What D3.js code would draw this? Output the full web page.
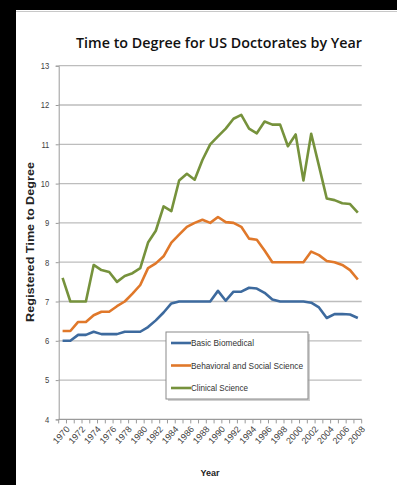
<!DOCTYPE html>
<html>
<head>
<meta charset="utf-8">
<script src="https://cdn.jsdelivr.net/npm/d3@7"></script>
<style>
  html, body { margin: 0; padding: 0; background: #000; }
  svg { display: block; }
  .tick text { fill: #404040; }
</style>
</head>
<body>
<div id="chart"></div>
<script>
// data
const years = d3.range(1970, 2009).map(String);
const basicBiomedical = [
  6.0, 6.0, 6.15, 6.15, 6.23, 6.17, 6.17, 6.17, 6.23, 6.23,
  6.23, 6.35, 6.52, 6.72, 6.95, 7.0, 7.0, 7.0, 7.0, 7.0,
  7.27, 7.02, 7.25, 7.25, 7.35, 7.33, 7.22, 7.05, 7.0, 7.0,
  7.0, 7.0, 6.97, 6.85, 6.58, 6.68, 6.68, 6.67, 6.58
];
const behavioralSocial = [
  6.25, 6.25, 6.48, 6.48, 6.65, 6.74, 6.74, 6.88, 7.0, 7.2,
  7.42, 7.85, 7.97, 8.15, 8.5, 8.7, 8.9, 9.0, 9.08, 9.0,
  9.15, 9.02, 9.0, 8.9, 8.6, 8.57, 8.3, 8.0, 8.0, 8.0,
  8.0, 8.0, 8.27, 8.18, 8.03, 8.0, 7.93, 7.8, 7.56
];
const clinicalScience = [
  7.6, 7.0, 7.0, 7.0, 7.93, 7.8, 7.75, 7.5, 7.65, 7.72,
  7.85, 8.5, 8.8, 9.42, 9.3, 10.08, 10.25, 10.1, 10.6, 11.0,
  11.2, 11.4, 11.65, 11.75, 11.4, 11.28, 11.58, 11.5, 11.5, 10.95,
  11.25, 10.08, 11.27, 10.45, 9.62, 9.58, 9.5, 9.48, 9.26
];
const seriesNames = ['Basic Biomedical', 'Behavioral and Social Science', 'Clinical Science'];
const yTicks = [4, 5, 6, 7, 8, 9, 10, 11, 12, 13];

// settings
const width = 397;
const height = 485;
const plot = { left: 58.7, right: 361.7, top: 65.7, bottom: 419.4 };
const colors = ['#3d6a9e', '#e0782a', '#76923c'];
const legendWidths = [63, 112, 57];
const labelFont = '"Liberation Sans", Arial, sans-serif';

const svg = d3.select('#chart')
  .append('svg')
  .attr('width', width)
  .attr('height', height);

// white panel with black frame on left / top
svg.append('rect').attr('x', 16).attr('y', 10).attr('width', width - 16).attr('height', height - 10).attr('fill', '#fff');
svg.append('line').attr('x1', 16).attr('x2', width).attr('y1', 11.5).attr('y2', 11.5)
  .attr('stroke', '#c8c8c8').attr('stroke-width', 1);

const x = d3.scaleBand().domain(years).range([plot.left, plot.right]);
const y = d3.scaleLinear().domain([4, 13]).range([plot.bottom, plot.top]);
const cx = d => x(d) + x.bandwidth() / 2;

// gridlines
svg.append('g')
  .selectAll('line')
  .data(yTicks.slice(1))
  .join('line')
  .attr('x1', plot.left).attr('x2', plot.right)
  .attr('y1', d => y(d)).attr('y2', d => y(d))
  .attr('stroke', '#bdbdbd').attr('stroke-width', 1.3);

// y axis
svg.append('g')
  .attr('transform', `translate(${plot.left},0)`)
  .call(d3.axisLeft(y).tickValues(yTicks).tickSize(3).tickPadding(8))
  .call(g => g.selectAll('.domain, line').attr('stroke', '#9a9a9a'))
  .call(g => g.selectAll('text').attr('font-family', labelFont).attr('font-size', 9)
    .attr('transform', 'scale(0.85,1)'));

// x axis
const xAxis = svg.append('g').attr('transform', `translate(0,${plot.bottom})`);
xAxis.append('line')
  .attr('x1', plot.left).attr('x2', plot.right)
  .attr('stroke', '#9a9a9a').attr('stroke-width', 1.3);
xAxis.selectAll('line.tk')
  .data(years.map(d => x(d)).concat([x.range()[1]]))
  .join('line')
  .attr('class', 'tk')
  .attr('x1', d => d).attr('x2', d => d)
  .attr('y1', 0).attr('y2', 4)
  .attr('stroke', '#9a9a9a');
xAxis.selectAll('text')
  .data(years.filter((d, i) => i % 2 === 0))
  .join('text')
  .attr('transform', d => `translate(${cx(d) + 3},${6}) rotate(-48)`)
  .attr('text-anchor', 'end')
  .attr('dy', '0.7em')
  .attr('font-family', labelFont)
  .attr('font-size', 9)
  .attr('fill', '#404040')
  .text(d => d);

// lines
const line = d3.line()
  .x((d, i) => cx(years[i]))
  .y(d => y(d));

svg.append('g')
  .selectAll('path')
  .data([basicBiomedical, behavioralSocial, clinicalScience])
  .join('path')
  .attr('d', d => line(d))
  .attr('fill', 'none')
  .attr('stroke', (d, i) => colors[i])
  .attr('stroke-width', 2.6)
  .attr('stroke-linejoin', 'round');

// legend
const legend = svg.append('g').attr('transform', 'translate(166,332)');
legend.append('rect')
  .attr('x', 2).attr('y', 2).attr('width', 142).attr('height', 67)
  .attr('fill', '#b0b0b0').attr('opacity', 0.6);
legend.append('rect')
  .attr('width', 142).attr('height', 67)
  .attr('fill', '#fff').attr('stroke', '#8a8a8a');
seriesNames.forEach((name, i) => {
  legend.append('line')
    .attr('x1', 5).attr('x2', 25)
    .attr('y1', 11 + i * 22.5).attr('y2', 11 + i * 22.5)
    .attr('stroke', colors[i]).attr('stroke-width', 2.6);
  legend.append('text')
    .attr('x', 25).attr('y', 14 + i * 22.5)
    .attr('font-family', labelFont)
    .attr('font-size', 9)
    .attr('fill', '#333')
    .attr('textLength', legendWidths[i])
    .attr('lengthAdjust', 'spacingAndGlyphs')
    .text(name);
});

// titles
svg.append('text')
  .attr('x', 219).attr('y', 48)
  .attr('text-anchor', 'middle')
  .attr('font-family', '"Open Sans", sans-serif')
  .attr('font-weight', 600)
  .attr('font-size', 15)
  .attr('fill', '#111')
  .attr('textLength', 286)
  .attr('lengthAdjust', 'spacingAndGlyphs')
  .text('Time to Degree for US Doctorates by Year');

svg.append('text')
  .attr('transform', 'translate(34,242) rotate(-90)')
  .attr('text-anchor', 'middle')
  .attr('font-family', labelFont)
  .attr('font-weight', 'bold')
  .attr('font-size', 10)
  .attr('fill', '#222')
  .attr('textLength', 160)
  .attr('lengthAdjust', 'spacingAndGlyphs')
  .text('Registered Time to Degree');

svg.append('text')
  .attr('x', 210).attr('y', 476)
  .attr('text-anchor', 'middle')
  .attr('font-family', labelFont)
  .attr('font-weight', 'bold')
  .attr('font-size', 9)
  .attr('fill', '#222')
  .text('Year');
</script>
</body>
</html>
